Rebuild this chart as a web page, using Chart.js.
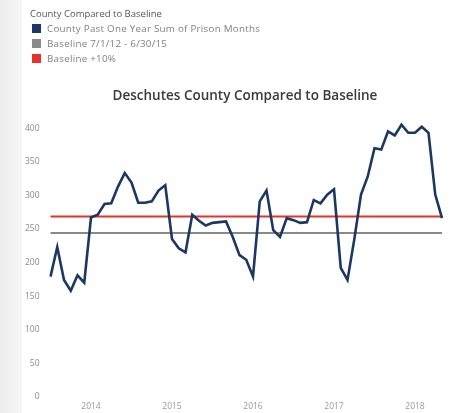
<!DOCTYPE html>
<html>
<head>
<meta charset="utf-8">
<script src="https://cdn.jsdelivr.net/npm/chart.js@4/dist/chart.umd.min.js"></script>
<style>
  html, body { margin: 0; padding: 0; background: #fff; }
  body { width: 457px; height: 413px; position: relative; overflow: hidden; font-family: "Open Sans", sans-serif; }
  #edge { position: absolute; left: 0; top: 0; width: 22px; height: 413px; background: linear-gradient(to right, #ececec, #f7f7f7); }
  #legend { position: absolute; left: 30px; top: 6px; }
  #legend .ttl { font-size: 9.5px; color: #555; height: 15px; line-height: 15px; }
  #legend .item { font-size: 9.8px; letter-spacing: 0.25px; color: #808080; height: 15px; line-height: 15px; display: flex; align-items: center; }
  #legend .sw { width: 9px; height: 9px; margin: 0 6px 0 2px; }
  #title { position: absolute; left: 0; width: 490px; top: 86px; text-align: center; font-size: 13.5px; font-weight: 600; color: #3a3a3a; }
  #wrap { position: absolute; left: 0; top: 0; width: 457px; height: 413px; }
</style>
</head>
<body>
<div id="edge"></div>
<div id="wrap"><canvas id="countyChart"></canvas></div>
<div id="legend">
  <div class="ttl">County Compared to Baseline</div>
  <div class="item"><span class="sw" style="background:#1b3762"></span>County Past One Year Sum of Prison Months</div>
  <div class="item"><span class="sw" style="background:#8a8a8a"></span>Baseline 7/1/12 - 6/30/15</div>
  <div class="item"><span class="sw" style="background:#e5332a"></span>Baseline +10%</div>
</div>
<div id="title">Deschutes County Compared to Baseline</div>
<script>
//Months (Jul 2013 - May 2018)
const months = [
  '2013-07', '2013-08', '2013-09', '2013-10', '2013-11', '2013-12',
  '2014-01', '2014-02', '2014-03', '2014-04', '2014-05', '2014-06',
  '2014-07', '2014-08', '2014-09', '2014-10', '2014-11', '2014-12',
  '2015-01', '2015-02', '2015-03', '2015-04', '2015-05', '2015-06',
  '2015-07', '2015-08', '2015-09', '2015-10', '2015-11', '2015-12',
  '2016-01', '2016-02', '2016-03', '2016-04', '2016-05', '2016-06',
  '2016-07', '2016-08', '2016-09', '2016-10', '2016-11', '2016-12',
  '2017-01', '2017-02', '2017-03', '2017-04', '2017-05', '2017-06',
  '2017-07', '2017-08', '2017-09', '2017-10', '2017-11', '2017-12',
  '2018-01', '2018-02', '2018-03', '2018-04', '2018-05',
];

//County past one year sum of prison months
const countyValues = [
  179, 223, 174, 158, 181, 170,
  267, 271, 287, 288, 313, 333,
  319, 289, 289, 291, 307, 315,
  235, 221, 215, 271, 262, 255,
  259, 260, 261, 238, 211, 204,
  179, 291, 307, 248, 238, 266,
  263, 259, 260, 293, 288, 301,
  309, 192, 174, 234, 301, 328,
  370, 368, 395, 389, 405, 393,
  393, 402, 393, 301, 266,
];

//Baselines
const baselineValue = 244;
const baselinePlus10 = 268.4;

const yTicks = [0, 50, 100, 150, 200, 250, 300, 350, 400];

function createChart() {
  const ctx = document.getElementById('countyChart').getContext('2d');

  const chart = new Chart(ctx, {
    type: 'line',
    data: {
      labels: months,
      datasets: [
        {
          label: 'County Past One Year Sum of Prison Months',
          data: countyValues,
          borderColor: '#1b3762',
          borderWidth: 2.6,
          pointRadius: 0,
          tension: 0,
        },
        {
          label: 'Baseline +10%',
          data: months.map(() => baselinePlus10),
          borderColor: '#e5332a',
          borderWidth: 2,
          pointRadius: 0,
        },
        {
          label: 'Baseline 7/1/12 - 6/30/15',
          data: months.map(() => baselineValue),
          borderColor: '#8a8a8a',
          borderWidth: 2,
          pointRadius: 0,
        },
      ],
    },
    options: {
      responsive: true,
      maintainAspectRatio: false,
      animation: false,
      layout: {
        padding: { top: 118, right: 15, bottom: 0, left: 0 },
      },
      plugins: {
        legend: { display: false },
        tooltip: { enabled: false },
      },
      scales: {
        x: {
          offset: false,
          grid: { display: false, drawTicks: false },
          border: { display: false },
          ticks: {
            autoSkip: false,
            maxRotation: 0,
            padding: 5,
            color: '#9a9a9a',
            font: { family: 'Open Sans', size: 8.5 },
            callback: function (value) {
              const m = months[value];
              return m.endsWith('-01') ? m.slice(0, 4) : '';
            },
          },
          afterFit: (scale) => { scale.height = 16; },
        },
        y: {
          min: 0,
          max: 415,
          grid: { display: false, drawTicks: false },
          border: { display: false },
          afterBuildTicks: (scale) => {
            scale.ticks = yTicks.map((v) => ({ value: v }));
          },
          ticks: {
            padding: 11,
            color: '#8a8a8a',
            font: { family: 'Open Sans', size: 8.5 },
          },
          afterFit: (scale) => { scale.width = 50.5; },
        },
      },
    },
  });

  return chart;
}

document.addEventListener('DOMContentLoaded', createChart);
</script>
</body>
</html>
